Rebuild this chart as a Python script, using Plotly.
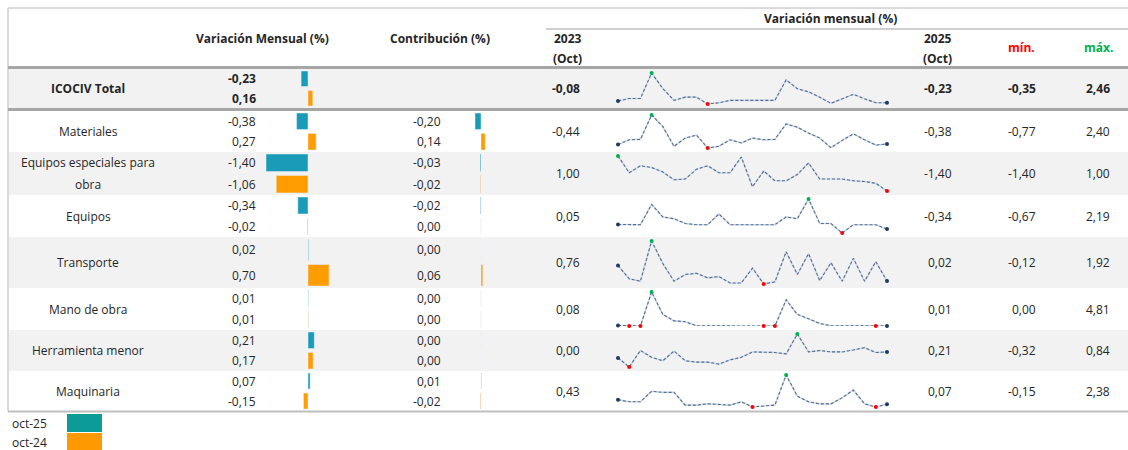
import plotly.graph_objects as go

# ---- data --------------------------------------------------------------
categories = ["ICOCIV Total", "Materiales", "Equipos especiales para<br>obra", "Equipos",
              "Transporte", "Mano de obra", "Herramienta menor", "Maquinaria"]

var_oct25 = [-0.23, -0.38, -1.40, -0.34, 0.02, 0.01, 0.21, 0.07]
var_oct24 = [0.16, 0.27, -1.06, -0.02, 0.70, 0.01, 0.17, -0.15]
contrib_oct25 = [None, -0.20, -0.03, -0.02, 0.00, 0.00, 0.00, 0.01]
contrib_oct24 = [None, 0.14, -0.02, 0.00, 0.06, 0.00, 0.00, -0.02]

# monthly variation oct-2023 .. oct-2025 (25 months)
icociv = [-0.08, 0.15, 0.15, 2.46, 1.05, -0.02, 0.27, 0.27, -0.35, -0.24, -0.02, -0.02, -0.02,
          -0.02, -0.02, 1.84, 1.03, 0.75, 0.27, -0.29, 0.12, 0.53, 0.12, -0.24, -0.23]
materiales = [-0.44, 0.02, 0.06, 2.40, 1.29, -0.61, 0.18, 0.47, -0.77, -0.61, 0.02, -0.29, 0.18,
              0.02, 0.06, 1.54, 1.23, 0.66, 0.18, -0.74, -0.04, 0.59, 0.02, -0.49, -0.38]
equipos_esp = [1.00, -0.15, 0.33, 0.21, -0.10, -0.63, -0.58, 0.09, 0.33, -0.15, -0.15, 0.93, -1.11,
               -0.03, -0.70, -0.70, -0.27, 0.52, -0.58, -0.58, -0.58, -0.70, -0.75, -0.87, -1.40]
equipos = [0.05, 0.03, 0.03, 1.74, 0.68, 0.53, 0.13, 0.03, 0.03, 0.93, 0.03, 0.03, 0.03,
           0.03, 0.03, 0.68, 0.53, 2.19, 0.13, 0.13, -0.67, 0.03, 0.03, 0.03, -0.34]
transporte = [0.76, 0.13, 0.01, 1.92, 0.85, 0.01, 0.33, 0.39, 0.17, 0.23, -0.07, -0.07, 0.63,
              -0.12, -0.02, 1.41, 0.33, 1.32, 0.04, 0.89, 0.01, 1.10, 0.01, 0.94, 0.02]
mano_obra = [0.08, 0.00, 0.00, 4.81, 1.64, 0.72, 0.61, 0.02, 0.02, 0.01, 0.01, 0.01, 0.01,
             0.00, 0.00, 3.70, 1.64, 1.02, 0.36, 0.03, 0.02, 0.02, 0.02, 0.00, 0.01]
herramienta = [0.00, -0.32, 0.26, 0.02, -0.10, 0.24, -0.10, -0.15, -0.15, -0.22, -0.07, 0.02, 0.21,
               0.21, 0.19, 0.14, 0.84, 0.21, 0.26, 0.21, 0.21, 0.28, 0.36, 0.19, 0.21]
maquinaria = [0.43, 0.26, 0.26, 1.09, 1.01, 1.01, 0.00, 0.00, 0.10, 0.05, 0.00, 0.26, -0.15,
              -0.07, 0.00, 2.38, 0.71, 0.26, 0.10, 0.10, 0.58, 1.19, 0.10, -0.15, 0.07]

sparks = [icociv, materiales, equipos_esp, equipos, transporte, mano_obra, herramienta, maquinaria]
months = list(range(25))

# ---- layout (pixels) ---------------------------------------------------
W, H = 1128, 450
ROW_TOP = [69, 111, 152, 195, 237, 288, 330, 371]
ROW_BOT = [108, 152, 195, 237, 288, 330, 371, 411]
ZERO_VAR, ZERO_CON, PX_UNIT = 308, 481, 30

TEAL, ORANGE = "#1a9cb8", "#ff9c00"
TXT = "#262626"
FONT = "Open Sans"


def fmt(v):
    return f"{v:.2f}".replace(".", ",")


def py(px):
    return 1 - px / H


fig = go.Figure()

top_c = [t + (b - t) * 0.25 for t, b in zip(ROW_TOP, ROW_BOT)]
bot_c = [t + (b - t) * 0.75 for t, b in zip(ROW_TOP, ROW_BOT)]
thick = [(b - t) / 2 - 4 for t, b in zip(ROW_TOP, ROW_BOT)]

# bars variación mensual
fig.add_trace(go.Bar(x=var_oct25, y=top_c, width=thick, orientation="h", marker_color=TEAL,
                     xaxis="x2", yaxis="y", showlegend=False))
fig.add_trace(go.Bar(x=var_oct24, y=bot_c, width=thick, orientation="h", marker_color=ORANGE,
                     xaxis="x2", yaxis="y", showlegend=False))
# bars contribución
fig.add_trace(go.Bar(x=contrib_oct25, y=top_c, width=thick, orientation="h", marker_color=TEAL,
                     xaxis="x3", yaxis="y", showlegend=False))
fig.add_trace(go.Bar(x=contrib_oct24, y=bot_c, width=thick, orientation="h", marker_color=ORANGE,
                     xaxis="x3", yaxis="y", showlegend=False))

# sparklines
for i, s in enumerate(sparks):
    ya = f"y{i + 2}"
    fig.add_trace(go.Scatter(x=months, y=s, mode="lines", line=dict(color="#c9dcf2", width=1.6),
                             xaxis="x4", yaxis=ya, showlegend=False, cliponaxis=False))
    fig.add_trace(go.Scatter(x=months, y=s, mode="lines",
                             line=dict(color="#5b6b82", width=1.1, dash="3px,2px"),
                             xaxis="x4", yaxis=ya, showlegend=False, cliponaxis=False))
    lo, hi = min(s), max(s)
    mx, my, mc = [], [], []
    for j, v in enumerate(s):
        if v == hi:
            c = "#00b050"
        elif v == lo:
            c = "#ff0000"
        elif j in (0, len(s) - 1):
            c = "#1f3864"
        else:
            continue
        mx.append(j)
        my.append(v)
        mc.append(c)
    fig.add_trace(go.Scatter(x=mx, y=my, mode="markers", marker=dict(color=mc, size=4),
                             xaxis="x4", yaxis=ya, showlegend=False, cliponaxis=False))
    fig.layout[f"yaxis{i + 2}"] = dict(domain=[py(ROW_BOT[i] - 4), py(ROW_TOP[i] + 4)],
                                       range=[lo, hi], visible=False, fixedrange=True)

shapes = []
# row backgrounds
for i in range(len(categories)):
    if i % 2 == 0:
        shapes.append(dict(type="rect", xref="x", yref="y", x0=8, x1=W, y0=ROW_TOP[i], y1=ROW_BOT[i],
                           fillcolor="#f2f2f2", line_width=0, layer="below"))
# borders
line_gray = "#a6a6a6"
shapes += [
    dict(type="line", xref="x", yref="y", x0=8, x1=W, y0=8, y1=8, line=dict(color="#d9d9d9", width=2)),
    dict(type="line", xref="x", yref="y", x0=8, x1=8, y0=8, y1=411, line=dict(color="#d9d9d9", width=2)),
    dict(type="line", xref="x", yref="y", x0=546, x1=W, y0=29, y1=29, line=dict(color="#bfbfbf", width=1.5)),
    dict(type="line", xref="x", yref="y", x0=8, x1=W, y0=67.5, y1=67.5, line=dict(color=line_gray, width=3)),
    dict(type="line", xref="x", yref="y", x0=8, x1=W, y0=109.5, y1=109.5, line=dict(color=line_gray, width=3)),
    dict(type="line", xref="x", yref="y", x0=8, x1=W, y0=411.5, y1=411.5, line=dict(color="#bfbfbf", width=2)),
    # legend swatches
    dict(type="rect", xref="x", yref="y", x0=67, x1=102, y0=414, y1=432, fillcolor="#0d9b98", line_width=0),
    dict(type="rect", xref="x", yref="y", x0=67, x1=102, y0=433, y1=450, fillcolor="#ff9900", line_width=0),
]

ann = []


def txt(x, y, t, anchor="center", bold=False, color=TXT, size=12):
    if bold:
        t = f"<b>{t}</b>"
    ann.append(dict(x=x, y=y, xref="x", yref="y", text=t, showarrow=False, xanchor=anchor,
                    yanchor="middle", font=dict(family=FONT, size=size, color=color)))


# header
txt(830, 18, "Variación mensual (%)", bold=True)
txt(262, 38, "Variación Mensual (%)", bold=True)
txt(440, 38, "Contribución (%)", bold=True)
txt(584, 38, "2023", "right", bold=True)
txt(584, 58, "(Oct)", "right", bold=True)
txt(954, 38, "2025", "right", bold=True)
txt(954, 58, "(Oct)", "right", bold=True)
txt(1021, 47, "mín.", bold=True, color="#ff0000")
txt(1098, 47, "máx.", bold=True, color="#00b050")

# rows
for i, cat in enumerate(categories):
    b = i == 0
    mid = (ROW_TOP[i] + ROW_BOT[i]) / 2
    parts = cat.split("<br>")
    if len(parts) == 2:
        txt(88, top_c[i], parts[0], bold=b)
        txt(88, bot_c[i], parts[1], bold=b)
    else:
        txt(88, mid, cat, bold=b)
    txt(258, top_c[i], fmt(var_oct25[i]), "right", bold=b)
    txt(258, bot_c[i], fmt(var_oct24[i]), "right", bold=b)
    if contrib_oct25[i] is not None:
        txt(443, top_c[i], fmt(contrib_oct25[i]), "right")
        txt(443, bot_c[i], fmt(contrib_oct24[i]), "right")
    s = sparks[i]
    txt(582, mid, fmt(s[0]), "right", bold=b)
    txt(954, mid, fmt(s[-1]), "right", bold=b)
    txt(1038, mid, fmt(min(s)), "right", bold=b)
    txt(1112, mid, fmt(max(s)), "right", bold=b)

# legend text
txt(10, 423, "oct-25", "left")
txt(10, 442, "oct-24", "left")

fig.update_layout(
    width=W, height=H, margin=dict(l=0, r=0, t=0, b=0),
    paper_bgcolor="white", plot_bgcolor="rgba(0,0,0,0)",
    shapes=shapes, annotations=ann, barmode="overlay", showlegend=False,
    xaxis=dict(range=[0, W], visible=False, fixedrange=True),
    yaxis=dict(range=[H, 0], visible=False, fixedrange=True),
    xaxis2=dict(domain=[250 / W, 345 / W], range=[(250 - ZERO_VAR) / PX_UNIT, (345 - ZERO_VAR) / PX_UNIT],
                visible=False, fixedrange=True, anchor="y"),
    xaxis3=dict(domain=[450 / W, 530 / W], range=[(450 - ZERO_CON) / PX_UNIT, (530 - ZERO_CON) / PX_UNIT],
                visible=False, fixedrange=True, anchor="y"),
    xaxis4=dict(domain=[618 / W, 887 / W], range=[0, 24], visible=False, fixedrange=True, anchor="y"),
)

fig.write_html("out.html", config={"displayModeBar": False},
               post_script="document.body.style.margin='0';")
